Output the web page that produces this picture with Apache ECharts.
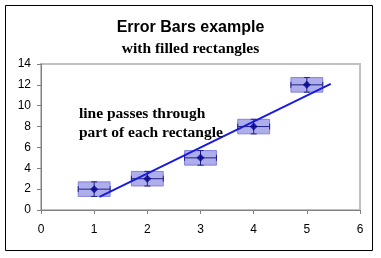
<!DOCTYPE html>
<html><head><meta charset="utf-8">
<script src="https://cdn.jsdelivr.net/npm/echarts@6/dist/echarts.min.js"></script>
<style>html,body{margin:0;padding:0;background:#fff}#c{width:381px;height:258px}</style>
</head><body><div id="c"></div>
<script>
var xValues = [1, 2, 3, 4, 5];
var yValues = [2, 3, 5, 8, 12];
var xErr = [0.3, 0.3, 0.3, 0.3, 0.3];
var yErr = [0.7, 0.7, 0.7, 0.7, 0.7];
var lineX = [1.1, 5.45];
var lineY = [1.25, 12.1];
var xTicks = [0, 1, 2, 3, 4, 5, 6];
var yTicks = [0, 2, 4, 6, 8, 10, 12, 14];

var boxData = xValues.map(function (x, i) { return [x, yValues[i], xErr[i], yErr[i]]; });
var pointData = xValues.map(function (x, i) { return [x, yValues[i]]; });
var lineData = lineX.map(function (x, i) { return [x, lineY[i]]; });

var chart = echarts.init(document.getElementById('c'), null, {renderer: 'canvas'});
chart.setOption({
  animation: false,
  backgroundColor: '#fff',
  title: [
    {text: 'Error Bars example', left: 'center', top: 15,
     textStyle: {fontFamily: 'Liberation Sans, Arial', fontSize: 16, fontWeight: 'bold', color: '#000'}},
    {text: 'with filled rectangles', left: 'center', top: 36,
     textStyle: {fontFamily: 'Liberation Serif, Times New Roman', fontSize: 15.5, fontWeight: 'bold', color: '#000'}}
  ],
  graphic: [
    {type: 'rect', shape: {x: 5.5, y: 5.5, width: 367, height: 245}, style: {fill: null, stroke: '#000', lineWidth: 1}, z: 0},
    {type: 'text', left: 79, top: 104, style: {text: 'line passes through\npart of each rectangle', fill: '#000',
      font: 'bold 15.5px "Liberation Serif", "Times New Roman", serif', lineHeight: 19}, z: 10}
  ],
  grid: {left: 41, right: 21, top: 64, bottom: 48, show: true, borderColor: '#c0c0c0', borderWidth: 2, backgroundColor: '#fff'},
  xAxis: {type: 'value', min: 0, max: 6, interval: 1,
    axisLine: {show: true, lineStyle: {color: '#808080', width: 1}},
    axisTick: {show: true, length: 4, lineStyle: {color: '#808080'}},
    splitLine: {show: false},
    axisLabel: {color: '#000', fontFamily: 'Liberation Sans, Arial', fontSize: 12, margin: 14,
      formatter: function (v) { return xTicks.indexOf(v) >= 0 ? String(v) : ''; }}},
  yAxis: {type: 'value', min: 0, max: 14, interval: 2,
    axisLine: {show: true, lineStyle: {color: '#808080', width: 1}},
    axisTick: {show: true, length: 4, lineStyle: {color: '#808080'}},
    splitLine: {show: false},
    axisLabel: {color: '#000', fontFamily: 'Liberation Sans, Arial', fontSize: 12, margin: 10,
      formatter: function (v) { return yTicks.indexOf(v) >= 0 ? String(v) : ''; }}},
  series: [
    {type: 'custom', data: boxData, z: 2,
      renderItem: function (params, api) {
        var x = api.value(0), y = api.value(1), ex = api.value(2), ey = api.value(3);
        var tl = api.coord([x - ex, y + ey]);
        var br = api.coord([x + ex, y - ey]);
        var c = api.coord([x, y]);
        var capW = 3;
        var dark = '#202080';
        return {type: 'group', children: [
          {type: 'rect', shape: {x: tl[0], y: tl[1], width: br[0] - tl[0], height: br[1] - tl[1]},
           style: {fill: 'rgba(120,120,225,0.6)', stroke: 'rgba(100,100,210,0.7)', lineWidth: 1}},
          {type: 'line', shape: {x1: tl[0], y1: c[1], x2: br[0], y2: c[1]}, style: {stroke: dark, lineWidth: 1}},
          {type: 'line', shape: {x1: tl[0], y1: c[1] - capW, x2: tl[0], y2: c[1] + capW}, style: {stroke: dark, lineWidth: 1}},
          {type: 'line', shape: {x1: br[0], y1: c[1] - capW, x2: br[0], y2: c[1] + capW}, style: {stroke: dark, lineWidth: 1}},
          {type: 'line', shape: {x1: c[0], y1: tl[1], x2: c[0], y2: br[1]}, style: {stroke: dark, lineWidth: 1}},
          {type: 'line', shape: {x1: c[0] - capW, y1: tl[1], x2: c[0] + capW, y2: tl[1]}, style: {stroke: dark, lineWidth: 1}},
          {type: 'line', shape: {x1: c[0] - capW, y1: br[1], x2: c[0] + capW, y2: br[1]}, style: {stroke: dark, lineWidth: 1}}
        ]};
      }},
    {type: 'line', data: lineData, symbol: 'none', z: 3,
      lineStyle: {color: '#1a1ae0', width: 2}},
    {type: 'scatter', data: pointData, symbol: 'diamond', symbolSize: 8, z: 4,
      itemStyle: {color: '#000090'}}
  ]
});
</script></body></html>
